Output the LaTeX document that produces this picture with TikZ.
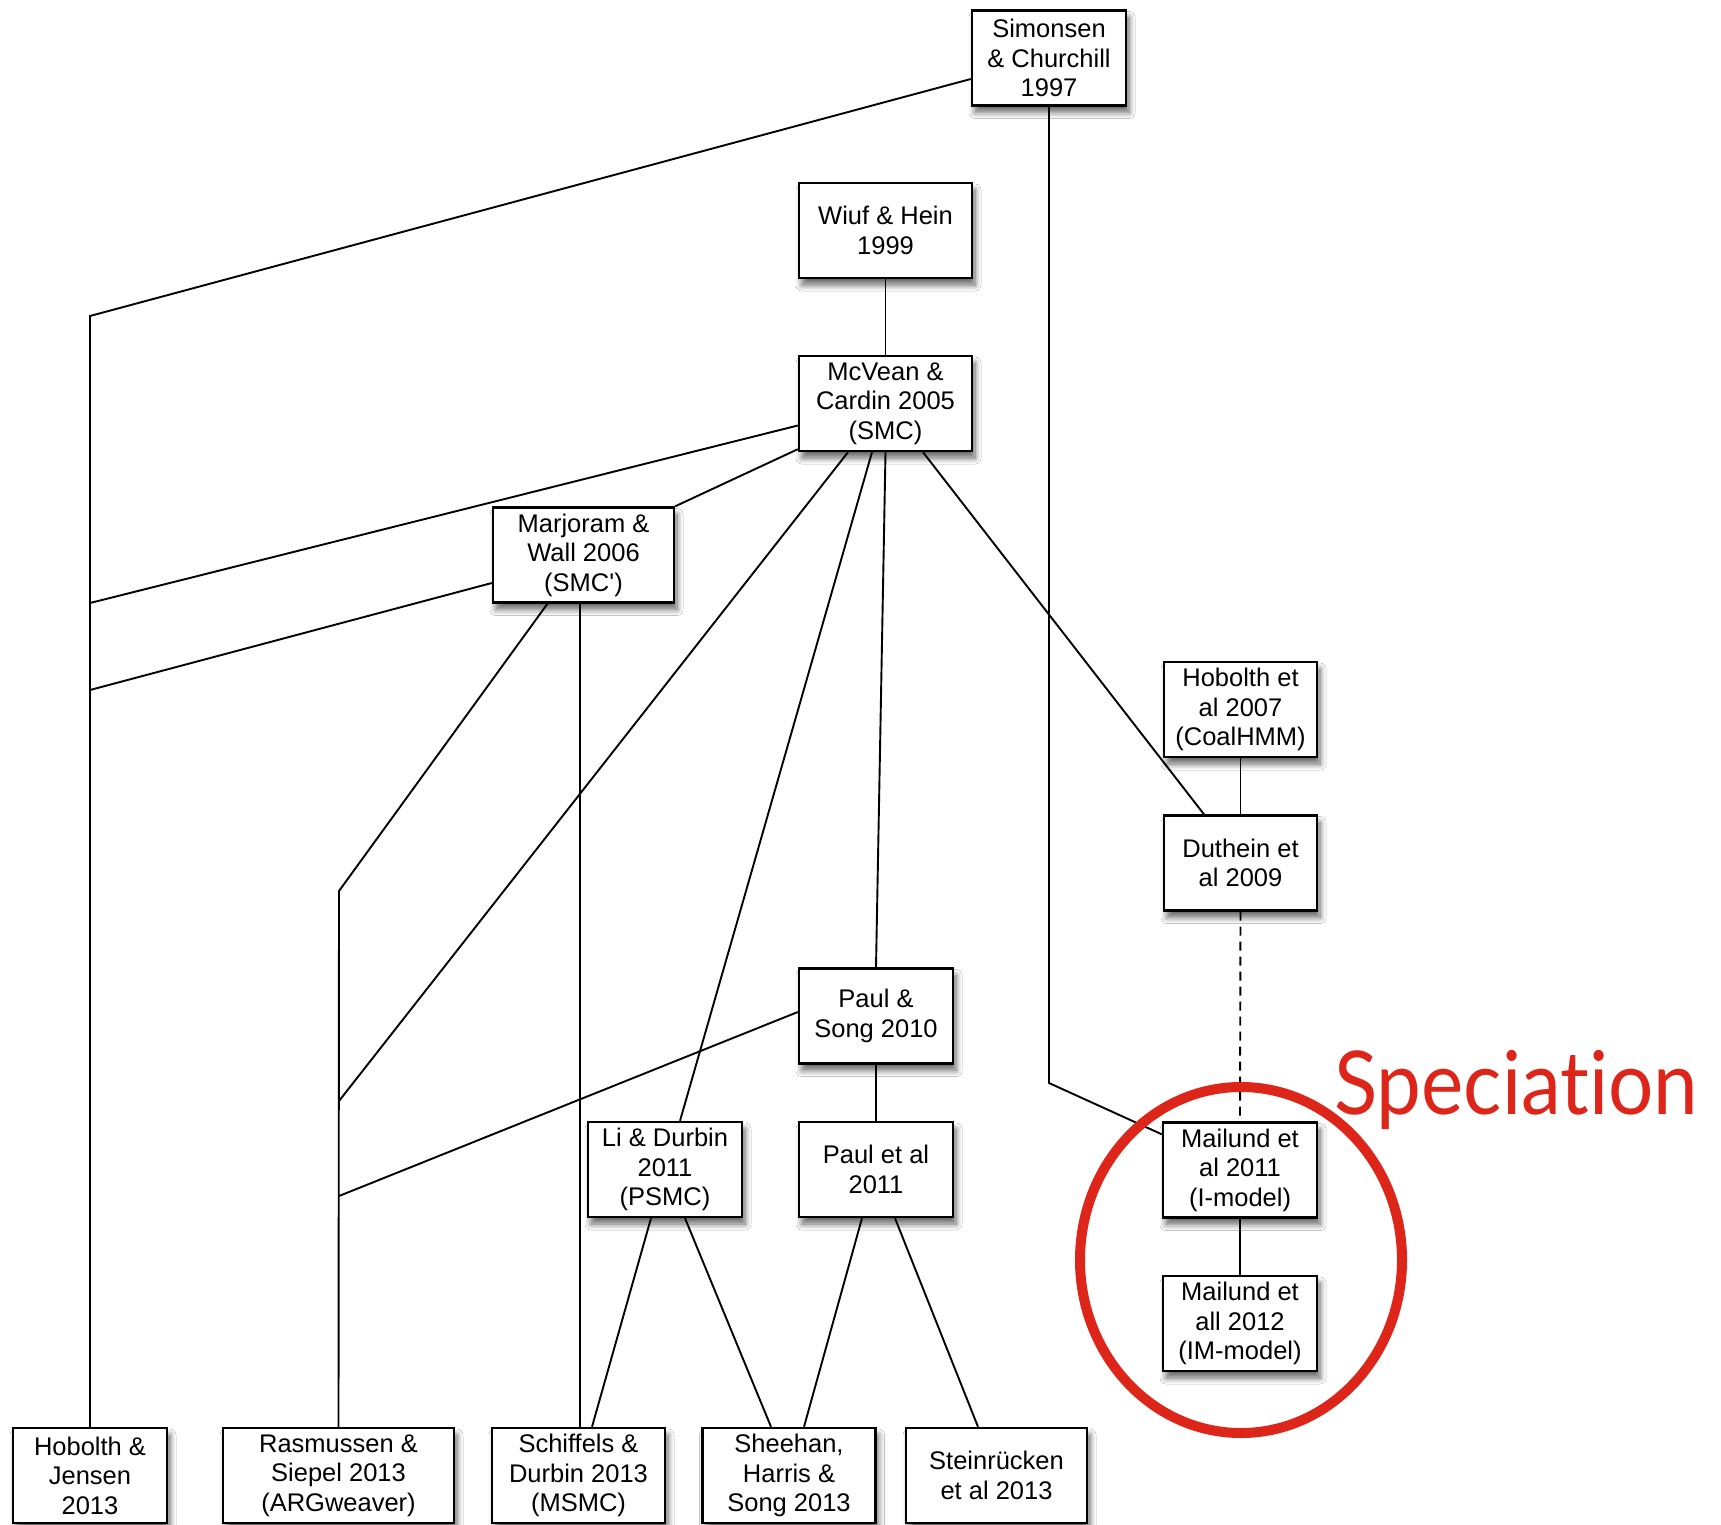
\documentclass[tikz,border=0pt]{standalone}
\usepackage{fontspec}
\setmainfont{Liberation Sans}
\newfontfamily\specfont[Ligatures=NoCommon]{Lato}
\usetikzlibrary{shadows.blur,calc}
\definecolor{specred}{RGB}{221,37,26}

\begin{document}
\begin{tikzpicture}[x=1pt,y=-1pt,
  paper/.style={draw=black, line width=2.4pt, fill=white, align=center,
    inner sep=0pt, minimum width=#1, minimum height=95pt,
    font=\fontsize{25.5}{29.6}\selectfont,
    blur shadow={shadow xshift=3pt, shadow yshift=-7pt, shadow opacity=60,
      shadow blur steps=8, shadow blur radius=6pt}},
  paper/.default=154pt,
  link/.style={line width=1.9pt, draw=black},
]
\fill[white] (0,0) rectangle (1721,1525);
\useasboundingbox (0,0) rectangle (1721,1525);

% publications
\node[paper] (sim) at (1049,58) {Simonsen\\\& Churchill\\1997};
\node[paper=173pt] (wiuf) at (885.5,230.5) {Wiuf \& Hein\\1999};
\node[paper=173pt] (mcv) at (885.5,403.5) {McVean \&\\Cardin 2005\\(SMC)};
\node[paper=181pt] (mar) at (583.5,555) {Marjoram \&\\Wall 2006\\(SMC\textquotesingle)};
\node[paper=153pt] (hob) at (1240.5,709.5) {Hobolth et\\al 2007\\(CoalHMM)};
\node[paper=153pt] (dut) at (1240.5,863) {Duthein et\\al 2009};
\node[paper] (ps) at (876,1016) {Paul \&\\Song 2010};
\node[paper] (ld) at (665,1169.5) {Li \& Durbin\\2011\\(PSMC)};
\node[paper] (pa) at (876,1169.5) {Paul et al\\2011};
\node[paper] (m11) at (1240,1170) {Mailund et\\al 2011\\(I-model)};
\node[paper] (m12) at (1240,1323.5) {Mailund et\\all 2012\\(IM-model)};
\node[paper] (hj) at (90,1475.5) {Hobolth \&\\Jensen\\2013};
\node[paper=231pt] (ras) at (338.5,1475.5) {Rasmussen \&\\Siepel 2013\\(ARGweaver)};
\node[paper=173pt] (sch) at (578.5,1475.5) {Schiffels \&\\Durbin 2013\\(MSMC)};
\node[paper=173pt] (she) at (789,1475.5) {Sheehan,\\Harris \&\\Song 2013};
\node[paper=181pt] (ste) at (996.5,1475.5) {Steinrücken\\et al 2013};

% bends and junctions of the connectors
\coordinate (hjbend) at (90,316);
\coordinate (hja) at (90,603);
\coordinate (hjb) at (90,690);
\coordinate (rbend) at (339,891);
\coordinate (ra) at (339,1101);
\coordinate (rb) at (339,1196);
\coordinate (mbend) at (1049,1083);

% citations
\draw[link] ([yshift=-21pt]sim.west) -- (hjbend) -- (hj.north);
\draw[link] (sim.south) -- (mbend) -- ([yshift=-13pt]m11.north west);
\draw[link] (wiuf.south) -- (mcv.north);
\draw[link] ([yshift=-22pt]mcv.west) -- (hja);
\draw[link] ([yshift=3pt]mcv.south west) -- (mar.north east);
\draw[link] ([yshift=-28pt]mar.west) -- (hjb);
\draw[link] ([xshift=-36pt]mar.south) -- (rbend) -- (ras.north);
\draw[link] ([xshift=-3.5pt]mar.south) -- ([xshift=1.5pt]sch.north);
\draw[link] ([xshift=-37.5pt]mcv.south) -- (ra);
\draw[link] ([xshift=-13.5pt]mcv.south) -- ([xshift=15pt]ld.north);
\draw[link] (mcv.south) -- (ps.north);
\draw[link] ([xshift=37.5pt]mcv.south) -- ([xshift=-36.5pt]dut.north);
\draw[link] (hob.south) -- (dut.north);
\draw[link, dash pattern=on 9pt off 6pt] (dut.south) -- (m11.north);
\draw[link] (m11.south) -- (m12.north);
\draw[link] ([yshift=4pt]ps.west) -- (rb);
\draw[link] (ps.south) -- (pa.north);
\draw[link] ([xshift=-14pt]ld.south) -- ([xshift=13.5pt]sch.north);
\draw[link] ([xshift=20pt]ld.south) -- ([xshift=-18pt]she.north);
\draw[link] ([xshift=-14pt]pa.south) -- ([xshift=15pt]she.north);
\draw[link] ([xshift=19pt]pa.south) -- ([xshift=-18.5pt]ste.north);

% speciation highlight
\draw[specred, line width=10pt] (1241,1260) ellipse [x radius=161, y radius=173];
\node[anchor=base west, inner sep=0pt, text=specred,
  font=\specfont\fontsize{88}{90}\selectfont] (spec) at (1334,1114)
  {\resizebox{364pt}{\height}{Speciation}};
\end{tikzpicture}
\end{document}
